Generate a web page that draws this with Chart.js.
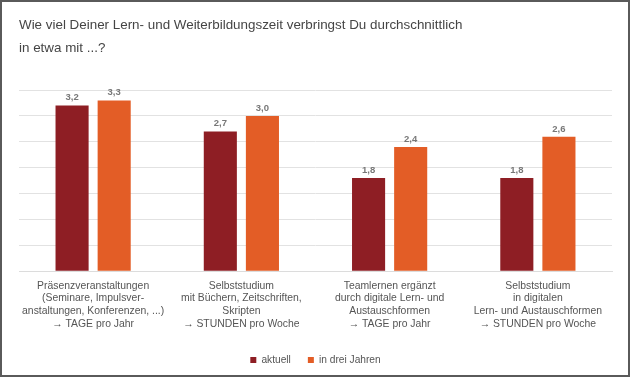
<!DOCTYPE html>
<html>
<head>
<meta charset="utf-8">
<script src="https://cdn.jsdelivr.net/npm/chart.js@4"></script>
<style>
  html, body { margin: 0; padding: 0; background: #fff; }
  .frame { width: 630px; height: 377px; box-sizing: border-box; border: 2px solid #5a5a5a; background: #fff; }
  canvas { display: block; }
</style>
</head>
<body>
<div class="frame"><canvas id="chart" width="626" height="373"></canvas></div>
<script>
const categories = [
    ['Präsenzveranstaltungen', '(Seminare, Impulsver-', 'anstaltungen, Konferenzen, ...)', '\u2192 TAGE pro Jahr'],
    ['Selbststudium', 'mit Büchern, Zeitschriften,', 'Skripten', '\u2192 STUNDEN pro Woche'],
    ['Teamlernen ergänzt', 'durch digitale Lern- und', 'Austauschformen', '\u2192 TAGE pro Jahr'],
    ['Selbststudium', 'in digitalen', 'Lern- und Austauschformen', '\u2192 STUNDEN pro Woche']
];
const aktuell = [3.2, 2.7, 1.8, 1.8];
const inDreiJahren = [3.3, 3.0, 2.4, 2.6];
const seriesNames = ['aktuell', 'in drei Jahren'];

const FONT = '"Liberation Sans", Arial, sans-serif';

// value labels above the bars, German decimal comma
const valueLabels = {
    id: 'valueLabels',
    afterDatasetsDraw(chart) {
        const ctx = chart.ctx;
        ctx.save();
        ctx.font = 'bold 9.5px ' + FONT;
        ctx.fillStyle = '#777';
        ctx.textAlign = 'center';
        ctx.textBaseline = 'bottom';
        chart.data.datasets.forEach((ds, i) => {
            chart.getDatasetMeta(i).data.forEach((bar, j) => {
                ctx.fillText(ds.data[j].toFixed(1).replace('.', ','), bar.x, bar.y - 3);
            });
        });
        ctx.restore();
    }
};

new Chart(document.getElementById('chart'), {
    type: 'bar',
    data: {
        labels: categories,
        datasets: [
            { label: seriesNames[0], data: aktuell, backgroundColor: '#8e1e24' },
            { label: seriesNames[1], data: inDreiJahren, backgroundColor: '#e35d26' }
        ]
    },
    options: {
        responsive: false,
        animation: false,
        categoryPercentage: 0.568,
        barPercentage: 0.786,
        layout: { padding: { left: 17, right: 16, top: 2, bottom: 0 } },
        scales: {
            x: {
                grid: { display: false },
                border: { color: '#dcdcdc' },
                ticks: {
                    color: '#555',
                    padding: 0,
                    maxRotation: 0,
                    autoSkip: false,
                    font: { family: FONT, size: 10.4, lineHeight: 1.24 }
                },
                // empty title used as spacer between tick labels and legend
                title: { display: true, text: '', padding: 0, font: { size: 7, lineHeight: 1 } }
            },
            y: {
                min: 0,
                max: 3.5,
                ticks: { stepSize: 0.5, display: false },
                grid: { color: '#e2e2e2', drawTicks: false },
                border: { display: false }
            }
        },
        plugins: {
            title: {
                display: true,
                align: 'start',
                text: ['Wie viel Deiner Lern- und Weiterbildungszeit verbringst Du durchschnittlich', 'in etwa mit ...?'],
                color: '#454545',
                font: { family: FONT, size: 13.4, weight: 'normal', lineHeight: 1.72 },
                padding: { top: 10, bottom: 30 }
            },
            legend: {
                position: 'bottom',
                labels: {
                    boxWidth: 6,
                    boxHeight: 6,
                    padding: 17,
                    color: '#555',
                    font: { family: FONT, size: 10.2 }
                }
            },
            tooltip: { enabled: false }
        }
    },
    plugins: [valueLabels]
});
</script>
</body>
</html>
